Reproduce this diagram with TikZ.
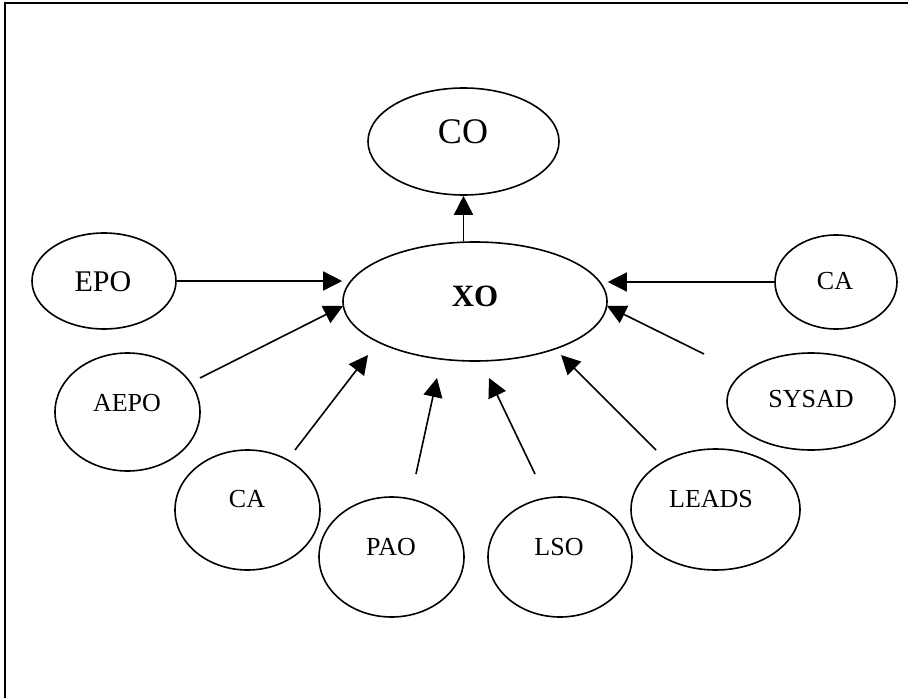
\documentclass[tikz,border=0pt]{standalone}
\usepackage{fontspec}
\setmainfont{Liberation Serif}
\usetikzlibrary{shapes.geometric,arrows.meta}
\begin{document}
\begin{tikzpicture}[x=1pt,y=-1pt,
  oval/.style={ellipse,draw,line width=1.6pt,inner sep=0pt},
  lbl/.style={inner sep=0pt,font=\fontsize{26}{30}\selectfont},
  arr/.style={line width=1.6pt,-{Triangle[length=19pt,width=19pt]}}]
\useasboundingbox (0,0) rectangle (908,698);
\draw[line width=2pt] (4.5,698) -- (4.5,3.5) -- (908,3.5);
% ellipses
\node[oval,minimum width=191pt,minimum height=107pt] (co) at (463.5,141.5) {};
\node[oval,minimum width=264pt,minimum height=119pt] (xo) at (475,301.5) {};
\node[oval,minimum width=144pt,minimum height=96pt] (epo) at (104,281) {};
\node[oval,minimum width=145pt,minimum height=118pt] (aepo) at (127.5,412) {};
\node[oval,minimum width=122pt,minimum height=94pt] (car) at (836,282) {};
\node[oval,minimum width=168pt,minimum height=97pt] (sysad) at (811,401.5) {};
\node[oval,minimum width=145pt,minimum height=120pt] (cab) at (247.5,510) {};
\node[oval,minimum width=145pt,minimum height=120pt] (pao) at (391.5,557) {};
\node[oval,minimum width=144pt,minimum height=120pt] (lso) at (560,557) {};
\node[oval,minimum width=169pt,minimum height=121pt] (leads) at (715.5,509.5) {};
% texts
\node[lbl,font=\fontsize{36}{40}\selectfont] (co-t) at (463,132) {CO};
\node[lbl,font=\fontsize{31}{35}\selectfont\bfseries] (xo-t) at (475,296) {XO};
\node[lbl,font=\fontsize{30}{34}\selectfont] (epo-t) at (103,282) {EPO};
\node[lbl] (aepo-t) at (127,403) {AEPO};
\node[lbl] (car-t) at (835,281) {CA};
\node[lbl] (sysad-t) at (811,399) {SYSAD};
\node[lbl] (cab-t) at (247,499) {CA};
\node[lbl] (pao-t) at (391,547) {PAO};
\node[lbl] (lso-t) at (559,547) {LSO};
\node[lbl] (leads-t) at (711,499) {LEADS};
% free ends of connectors
\coordinate (s4) at (200,378); \coordinate (e4) at (343,306);
\coordinate (s5) at (704,354); \coordinate (e5) at (607,306);
\coordinate (s6) at (295,450); \coordinate (e6) at (368,355);
\coordinate (s7) at (416,474); \coordinate (e7) at (437,378);
\coordinate (s8) at (535,474); \coordinate (e8) at (489,378);
\coordinate (s9) at (656,450); \coordinate (e9) at (561,355);
% connectors
\draw[arr] (xo.north -| co.south) -- (co.south);
\draw[arr] (epo.east) -- (epo.east -| xo.west);
\draw[arr] (car.west) -- (car.west -| xo.east);
\draw[arr] (s4) -- (e4);
\draw[arr] (s5) -- (e5);
\draw[arr] (s6) -- (e6);
\draw[arr] (s7) -- (e7);
\draw[arr] (s8) -- (e8);
\draw[arr] (s9) -- (e9);
\end{tikzpicture}
\end{document}
